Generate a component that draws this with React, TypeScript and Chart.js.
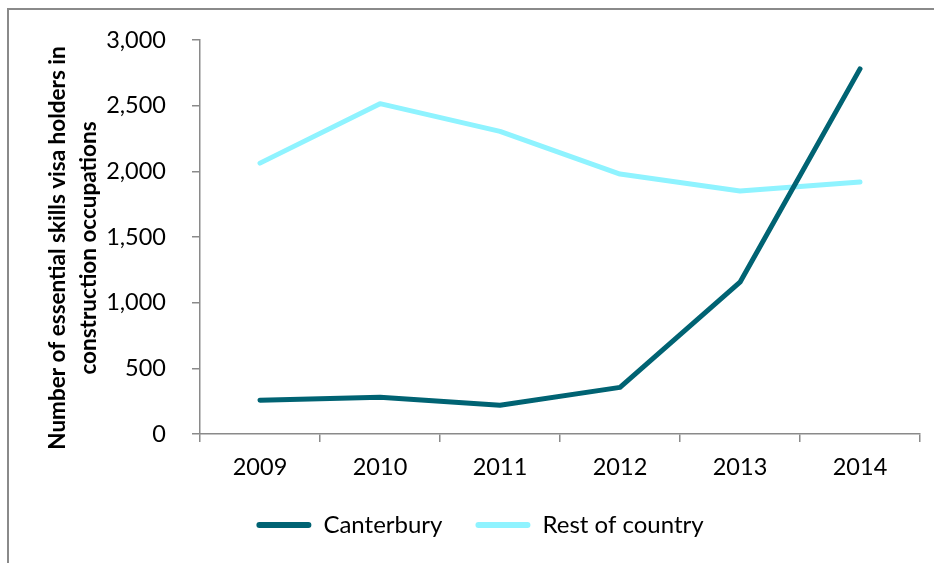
import React, { useEffect, useRef } from "react";
import { Chart, registerables } from "chart.js";

Chart.register(...registerables);

const years = ["2009", "2010", "2011", "2012", "2013", "2014"];
const canterbury = [257, 280, 219, 355, 1156, 2781];
const restOfCountry = [2063, 2516, 2305, 1980, 1851, 1919];
const yTitleLines = ["Number of essential skills visa holders in", "construction occupations"];

const FONT = "Lato, 'Open Sans', sans-serif";
const AXIS_COLOR = "#8a8a8a";

const yTitlePlugin = {
  id: "yTitlePlugin",
  afterDraw(chart: any) {
    const ctx = chart.ctx;
    ctx.save();
    ctx.font = `bold 22.5px ${FONT}`;
    ctx.fillStyle = "#000";
    ctx.textAlign = "center";
    ctx.textBaseline = "middle";
    const cy = 248;
    const xs = [58, 89];
    yTitleLines.forEach((line, i) => {
      ctx.save();
      ctx.translate(xs[i], cy);
      ctx.rotate(-Math.PI / 2);
      ctx.fillText(line, 0, 0);
      ctx.restore();
    });
    ctx.restore();
  },
};

export default function App() {
  const ref = useRef<HTMLCanvasElement | null>(null);
  useEffect(() => {
    document.body.style.margin = "0";
    const canvas = ref.current!;
    const chart = new Chart(canvas, {
      type: "line",
      data: {
        labels: years,
        datasets: [
          {
            label: "Canterbury",
            data: canterbury,
            borderColor: "#006373",
            backgroundColor: "#006373",
            borderWidth: 5,
            pointRadius: 0,
            borderCapStyle: "round",
            borderJoinStyle: "round",
            tension: 0,
          },
          {
            label: "Rest of country",
            data: restOfCountry,
            borderColor: "#8ff3ff",
            backgroundColor: "#8ff3ff",
            borderWidth: 5,
            pointRadius: 0,
            borderCapStyle: "round",
            borderJoinStyle: "round",
            tension: 0,
          },
        ],
      },
      options: {
        animation: false,
        responsive: false,
        maintainAspectRatio: false,
        layout: { padding: { left: 40, right: 14, top: 36.5, bottom: 16 } },
        plugins: {
          tooltip: { enabled: false },
          title: { display: false },
          legend: {
            display: true,
            position: "bottom",
            labels: {
              boxWidth: 55,
              boxHeight: 6,
              padding: 33,
              useBorderRadius: true,
              borderRadius: 3,
              color: "#000",
              font: { family: FONT, size: 24 },
              generateLabels(chart: any) {
                const items = Chart.defaults.plugins.legend.labels.generateLabels(chart);
                return items.map((it: any) => ({ ...it, lineWidth: 0, fillStyle: it.strokeStyle }));
              },
            },
          },
        },
        scales: {
          x: {
            offset: true,
            grid: {
              offset: true,
              drawOnChartArea: false,
              drawTicks: true,
              tickLength: 8,
              color: AXIS_COLOR,
              lineWidth: 1.5,
            },
            border: { display: true, color: AXIS_COLOR, width: 1.5 },
            ticks: {
              color: "#000",
              padding: 11,
              maxRotation: 0,
              font: { family: FONT, size: 23.5 },
            },
            afterFit(scale: any) {
              scale.height = 46;
            },
          },
          y: {
            min: 0,
            max: 3000,
            grid: {
              drawOnChartArea: false,
              drawTicks: true,
              tickLength: 8,
              color: AXIS_COLOR,
              lineWidth: 1.5,
            },
            border: { display: true, color: AXIS_COLOR, width: 1.5 },
            ticks: {
              stepSize: 500,
              color: "#000",
              padding: 26,
              font: { family: FONT, size: 23.5 },
              callback: (v: any) => Number(v).toLocaleString("en-US"),
            },
            afterFit(scale: any) {
              scale.width = 160;
            },
          },
        },
      },
      plugins: [yTitlePlugin],
    } as any);
    return () => chart.destroy();
  }, []);

  return (
    <div style={{ position: "relative", width: 934, height: 563, overflow: "hidden", background: "#fff" }}>
      <div
        style={{
          position: "absolute",
          left: 7,
          top: 8,
          width: 940,
          height: 570,
          borderLeft: "2px solid #8a8a8a",
          borderTop: "2px solid #8a8a8a",
        }}
      />
      <canvas ref={ref} width={934} height={563} style={{ position: "absolute", left: 0, top: 0 }} />
    </div>
  );
}
